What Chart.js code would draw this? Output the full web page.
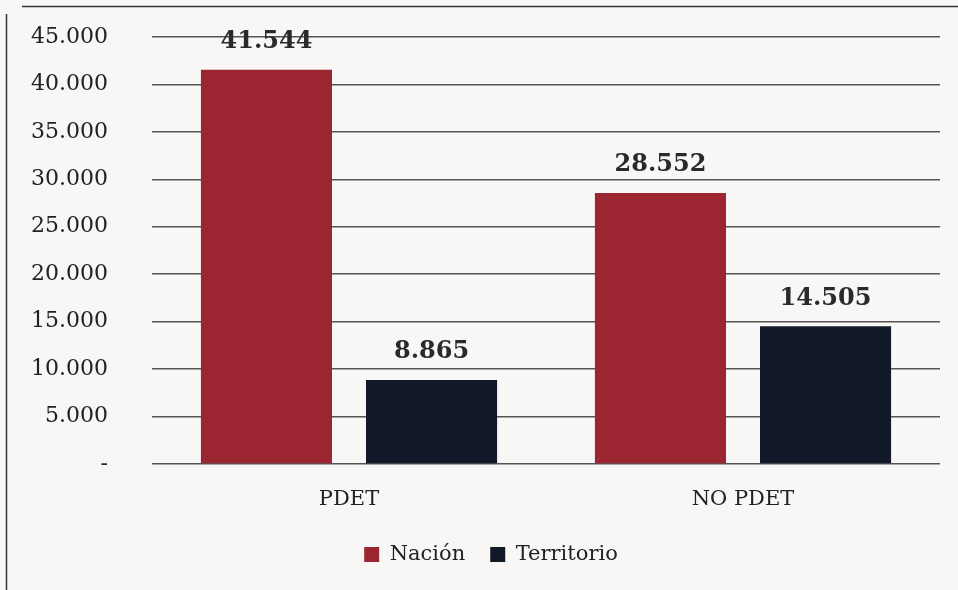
<!DOCTYPE html>
<html>
<head>
<meta charset="utf-8">
<script src="https://cdn.jsdelivr.net/npm/chart.js@4"></script>
<style>
  html, body { margin: 0; padding: 0; background: #f8f7f5; }
  #wrap { width: 958px; height: 590px; position: relative; }
</style>
</head>
<body>
<div id="wrap"><canvas id="chart" width="958" height="590"></canvas></div>
<script>
const categories = ['PDET', 'NO PDET']
const nacion = [41544, 28552]
const territorio = [8865, 14505]
const seriesNames = ['Nación', 'Territorio']

const fmt = v => v === 0 ? '-' : String(v).replace(/\B(?=(\d{3})+(?!\d))/g, '.')

// frame lines of the scanned figure
const frame = {
  id: 'frame',
  beforeDraw(chart) {
    const c = chart.ctx
    c.save()
    c.strokeStyle = '#333'
    c.lineWidth = 1.5
    c.beginPath()
    c.moveTo(22, 6.5); c.lineTo(958, 6.5)
    c.moveTo(6.5, 14); c.lineTo(6.5, 590)
    c.stroke()
    c.restore()
  },
  afterLayout(chart) {
    // legend sits a little right of the canvas centre in the original
    chart.legend.left += 21
    chart.legend.right += 21
  }
}

// value labels above the bars
const valueLabels = {
  id: 'valueLabels',
  afterDatasetsDraw(chart) {
    const c = chart.ctx
    c.save()
    c.font = 'bold 24px "DejaVu Serif"'
    c.fillStyle = '#2a2a2a'
    c.textAlign = 'center'
    c.textBaseline = 'bottom'
    chart.data.datasets.forEach((ds, i) => {
      chart.getDatasetMeta(i).data.forEach((bar, j) => {
        c.fillText(fmt(ds.data[j]), bar.x, bar.y - 16)
      })
    })
    c.restore()
  }
}

new Chart(document.getElementById('chart'), {
  type: 'bar',
  data: {
    labels: categories,
    datasets: [{
      label: seriesNames[0],
      data: nacion,
      backgroundColor: '#9b2530',
      categoryPercentage: 0.838,
      barPercentage: 0.794
    },
    {
      label: seriesNames[1],
      data: territorio,
      backgroundColor: '#111827',
      categoryPercentage: 0.838,
      barPercentage: 0.794
    }]
  },
  options: {
    responsive: false,
    animation: false,
    layout: { padding: { top: 37, right: 18, bottom: 15, left: 0 } },
    scales: {
      x: {
        afterFit: s => { s.height = 55 },
        grid: { display: false },
        border: { display: false },
        ticks: { color: '#222', font: { family: 'DejaVu Serif', size: 21 }, padding: 15 }
      },
      y: {
        min: 0,
        max: 45000,
        afterFit: s => { s.width = 152 },
        border: { display: false },
        grid: { color: '#555', lineWidth: 1.5, drawTicks: true, tickLength: 44, tickColor: 'rgba(0,0,0,0)' },
        ticks: {
          stepSize: 5000,
          padding: 0,
          color: '#222',
          font: { family: 'DejaVu Serif', size: 22 },
          callback: v => fmt(v)
        }
      }
    },
    plugins: {
      legend: {
        position: 'bottom',
        labels: {
          color: '#222',
          font: { family: 'DejaVu Serif', size: 21 },
          boxWidth: 15,
          boxHeight: 15,
          padding: 25
        }
      },
      tooltip: { enabled: false }
    }
  },
  plugins: [frame, valueLabels]
})
</script>
</body>
</html>
